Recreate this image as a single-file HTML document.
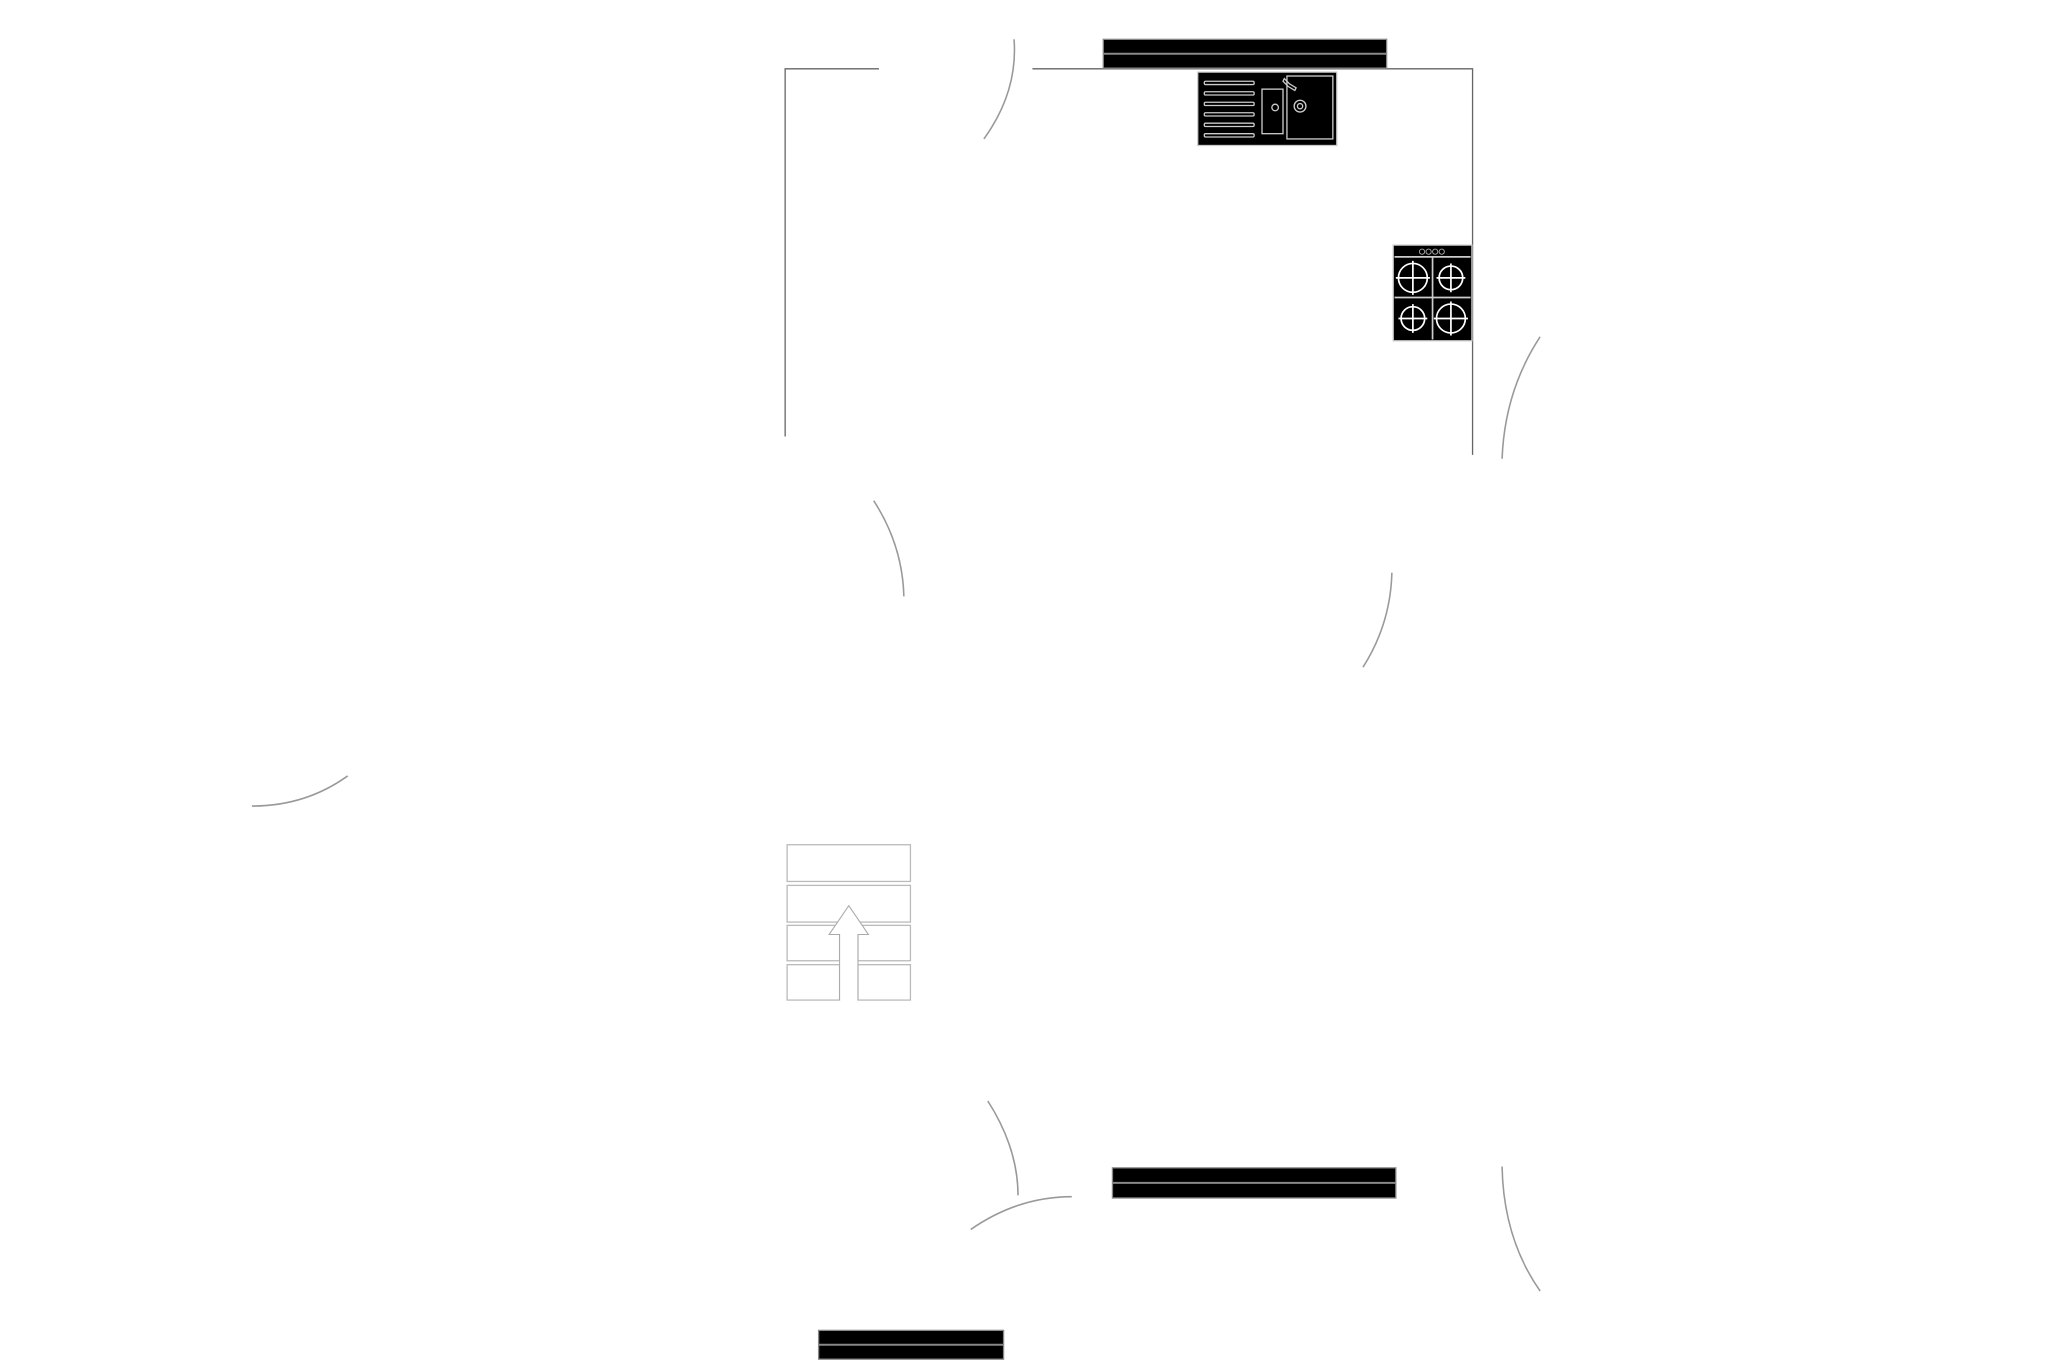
<!DOCTYPE html>
<html><head><meta charset="utf-8"><style>html,body{margin:0;padding:0;background:#fff}svg{display:block}</style></head>
<body>
<svg width="2057" height="1371" viewBox="0 0 1568 1046" preserveAspectRatio="none" xmlns="http://www.w3.org/2000/svg">
<g fill="none" stroke="#666" stroke-width="1">
<path d="M670 52.5H598.5V333"/>
<path d="M787 52.5H1122.5V347"/>
</g>
<g fill="none" stroke="#999" stroke-width="1.2">
<path d="M773 30 Q776 70 750 106"/>
<path d="M1174 257 Q1147 298 1145 350"/>
<path d="M666 382 Q688 416 689 455"/>
<path d="M1061 437 Q1060 476 1039 509"/>
<path d="M192 615 Q233 615 265 592"/>
<path d="M753 840 Q776 876 776 912"/>
<path d="M740 938 Q776 913 817 913"/>
<path d="M1145 890 Q1146 945 1174 985"/>
</g>
<g stroke="#888" stroke-width="1">
<rect x="841" y="30" width="216" height="22" fill="#000"/>
<line x1="841" y1="41" x2="1057" y2="41" stroke-width="1.5"/>
<rect x="848" y="891" width="216" height="23" fill="#000"/>
<line x1="848" y1="902.5" x2="1064" y2="902.5" stroke-width="1.5"/>
<rect x="624" y="1015" width="141" height="22" fill="#000"/>
<line x1="624" y1="1026" x2="765" y2="1026" stroke-width="1.5"/>
</g>
<rect x="913" y="55" width="106" height="56" fill="#000" stroke="#ccc"/>
<g fill="none" stroke="#ccc" stroke-width="1">
<rect x="918" y="62" width="38" height="2.5" rx="1"/>
<rect x="918" y="70" width="38" height="2.5" rx="1"/>
<rect x="918" y="78" width="38" height="2.5" rx="1"/>
<rect x="918" y="86" width="38" height="2.5" rx="1"/>
<rect x="918" y="94" width="38" height="2.5" rx="1"/>
<rect x="918" y="102" width="38" height="2.5" rx="1"/>
<rect x="962" y="68" width="16" height="34"/>
<circle cx="972" cy="82" r="2.5"/>
<rect x="981" y="58" width="35" height="48"/>
<circle cx="991" cy="81" r="4.5"/><circle cx="991" cy="81" r="2"/>
<path d="M979 60 L983 64 L988 67 L987 69 L982 66 L978 62 Z"/>
</g>
<rect x="1062" y="187" width="60" height="73" fill="#000" stroke="#ccc"/>
<g fill="none" stroke="#fff" stroke-width="1.3">
<line x1="1063" y1="196" x2="1121" y2="196" stroke="#ccc"/>
<line x1="1092" y1="196" x2="1092" y2="259" stroke="#ccc"/>
<line x1="1063" y1="227" x2="1121" y2="227" stroke="#ccc"/>
<circle cx="1077" cy="212" r="11"/><circle cx="1106" cy="212" r="9"/>
<circle cx="1077" cy="243" r="9"/><circle cx="1106" cy="243" r="11"/>
<path d="M1064 212h26M1077 199v26M1095 212h22M1106 201v22M1066 243h22M1077 232v22M1093 243h26M1106 230v26"/>
</g>
<g fill="none" stroke="#aaa" stroke-width="0.7">
<circle cx="1084" cy="192" r="2"/><circle cx="1089" cy="192" r="2"/><circle cx="1094" cy="192" r="2"/><circle cx="1099" cy="192" r="2"/>
</g>
<g fill="none" stroke="#bbb" stroke-width="1">
<rect x="600" y="644.5" width="94" height="28"/>
<rect x="600" y="675.5" width="94" height="28"/>
<rect x="600" y="706" width="40" height="27"/>
<rect x="654" y="706" width="40" height="27"/>
<rect x="600" y="736" width="40" height="27"/>
<rect x="654" y="736" width="40" height="27"/>
</g>
<path d="M640 763V713H632L647 691L662 713H654V763" fill="#fff" stroke="#aaa" stroke-width="0.8"/>
</svg>
</body></html>
